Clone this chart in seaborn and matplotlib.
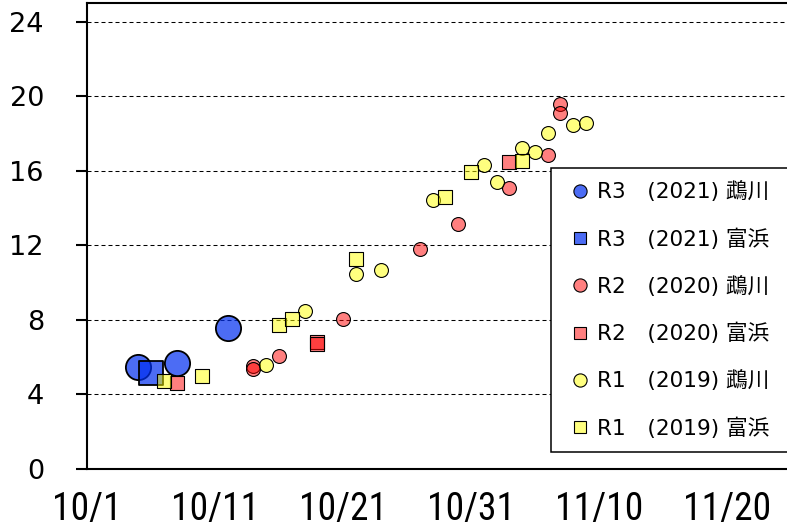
import matplotlib
matplotlib.use("Agg")
import matplotlib.pyplot as plt
import matplotlib.dates as mdates
from matplotlib.lines import Line2D
from matplotlib import font_manager
import seaborn as sns
import pandas as pd

# ---------------- data ----------------
YEAR = 2021  # common season axis (month/day only matters)

r3_mukawa_dates = ["10/5", "10/8", "10/12"]
r3_mukawa_vals = [5.45, 5.7, 7.55]

r3_tomihama_dates = ["10/6"]
r3_tomihama_vals = [5.15]

r2_mukawa_dates = ["10/14", "10/14", "10/16", "10/21", "10/27", "10/30",
                   "11/3", "11/6", "11/7", "11/7"]
r2_mukawa_vals = [5.55, 5.35, 6.05, 8.05, 11.8, 13.15, 15.1, 16.85, 19.6, 19.1]

r2_tomihama_dates = ["10/8", "10/19", "10/19", "11/3"]
r2_tomihama_vals = [4.6, 6.8, 6.7, 16.45]

r1_mukawa_dates = ["10/15", "10/18", "10/22", "10/24", "10/28", "11/1",
                   "11/2", "11/4", "11/5", "11/6", "11/8", "11/9"]
r1_mukawa_vals = [5.6, 8.45, 10.45, 10.7, 14.45, 16.3, 15.4, 17.2, 17.0,
                  18.0, 18.45, 18.55]

r1_tomihama_dates = ["10/7", "10/10", "10/16", "10/17", "10/22", "10/29",
                     "10/31", "11/4"]
r1_tomihama_vals = [4.7, 5.0, 7.7, 8.05, 11.25, 14.6, 15.95, 16.5]

series_labels = ["R3\u3000(2021) 鵡川", "R3\u3000(2021) 富浜",
                 "R2\u3000(2020) 鵡川", "R2\u3000(2020) 富浜",
                 "R1\u3000(2019) 鵡川", "R1\u3000(2019) 富浜"]

xtick_labels = ["10/1", "10/11", "10/21", "10/31", "11/10", "11/20"]
ytick_values = [0, 4, 8, 12, 16, 20, 24]


def to_dates(lst):
    return pd.to_datetime([f"{YEAR}/{s}" for s in lst], format="%Y/%m/%d")


# ---------------- style ----------------
sns.set_style("white")
plt.rcParams["font.family"] = ["DejaVu Sans", "Noto Sans CJK JP"]
plt.rcParams["text.color"] = "black"
plt.rcParams["xtick.color"] = "black"
plt.rcParams["ytick.color"] = "black"
plt.rcParams["xtick.labelcolor"] = "black"
plt.rcParams["ytick.labelcolor"] = "black"

# choose a condensed face for the date labels
ttf = font_manager.fontManager.ttflist
names = {f.name for f in ttf}
xfont_props = dict(fontfamily="DejaVu Sans", fontsize=21)
if "Liberation Sans Narrow" in names:
    xfont_props = dict(fontfamily="Liberation Sans Narrow", fontsize=28)
elif "Roboto Condensed" in names:
    xfont_props = dict(fontfamily="Roboto Condensed", fontsize=27)
elif any("DejaVuSansCondensed.ttf" in f.fname for f in ttf):
    xfont_props = dict(fontfamily="DejaVu Sans", fontstretch="condensed",
                       fontsize=24)
elif any(f.name == "Roboto" and f.stretch == "condensed" for f in ttf):
    xfont_props = dict(fontfamily="Roboto", fontstretch="condensed",
                       fontsize=27)

BLUE = (0.0, 0.18, 0.94, 0.70)
RED = (1.0, 0.0, 0.0, 0.50)
YELLOW = (1.0, 1.0, 0.0, 0.50)

series = [
    (series_labels[0], r3_mukawa_dates, r3_mukawa_vals, "o", BLUE, 330, 1.3),
    (series_labels[1], r3_tomihama_dates, r3_tomihama_vals, "s", BLUE, 290, 1.3),
    (series_labels[2], r2_mukawa_dates, r2_mukawa_vals, "o", RED, 100, 0.8),
    (series_labels[3], r2_tomihama_dates, r2_tomihama_vals, "s", RED, 90, 0.8),
    (series_labels[4], r1_mukawa_dates, r1_mukawa_vals, "o", YELLOW, 100, 0.8),
    (series_labels[5], r1_tomihama_dates, r1_tomihama_vals, "s", YELLOW, 90, 0.8),
]

W, H = 787, 529
fig = plt.figure(figsize=(W / 100, H / 100), dpi=100)
ax = fig.add_axes([87 / W, 60 / H, 700 / W, 466 / H])

for i, (lab, dts, vals, mk, col, size, lw) in enumerate(series):
    sns.scatterplot(x=to_dates(dts), y=vals, ax=ax, marker=mk, s=size,
                    color=col[:3], facecolor=col, edgecolor="black",
                    linewidth=lw, zorder=3 + i, legend=False)

# ---------------- axes ----------------
x0 = pd.Timestamp(YEAR, 10, 1)
ax.set_xlim(mdates.date2num(x0), mdates.date2num(x0) + 54.7)
ax.set_ylim(0, 25)

ax.set_xticks(mdates.date2num(to_dates(xtick_labels)))
ax.set_xticklabels(xtick_labels, color="black", **xfont_props)
ax.xaxis.set_minor_locator(mdates.DayLocator())
ax.tick_params(axis="x", which="major", direction="inout", length=16,
               width=1.5, color="black", pad=8)
ax.tick_params(axis="x", which="minor", direction="in", length=4.5,
               width=1.2, color="black")

ax.set_yticks(ytick_values)
ax.set_yticklabels([str(v) for v in ytick_values], fontsize=19.5,
                   color="black")
ax.tick_params(axis="y", which="major", direction="out", length=8,
               width=1.5, color="black", pad=23, left=True)
ax.yaxis.grid(True, linestyle=(0, (3.84, 2.88)), color="black", lw=0.75)
ax.xaxis.grid(False)
ax.set_axisbelow(True)
ax.set_xlabel("")
ax.set_ylabel("")

for side in ["left", "bottom", "top"]:
    ax.spines[side].set_visible(True)
    ax.spines[side].set_color("black")
    ax.spines[side].set_linewidth(1.5)
ax.spines["right"].set_visible(False)

# ---------------- legend ----------------
handles = []
for lab, dts, vals, mk, col, size, lw in series:
    handles.append(Line2D([], [], marker=mk, linestyle="none",
                          markersize=9.5 if mk == "o" else 9,
                          markerfacecolor=col, markeredgecolor="black",
                          markeredgewidth=0.8))

top_f = 1 - 168 / H
bot_f = 1 - 453 / H
leg = fig.legend(handles, series_labels, loc="upper left",
                 bbox_to_anchor=(551 / W, bot_f, 0.40, top_f - bot_f),
                 bbox_transform=fig.transFigure, mode="expand",
                 borderaxespad=0, fontsize=15.6, frameon=True,
                 fancybox=False, shadow=False, framealpha=1,
                 edgecolor="black", borderpad=0.62, handlelength=1.45,
                 handletextpad=0.05, labelspacing=1.2)
leg.get_frame().set_linewidth(1.1)
leg.set_zorder(20)
for t in leg.get_texts():
    t.set_color("black")

fig.savefig("out.png", dpi=100)
